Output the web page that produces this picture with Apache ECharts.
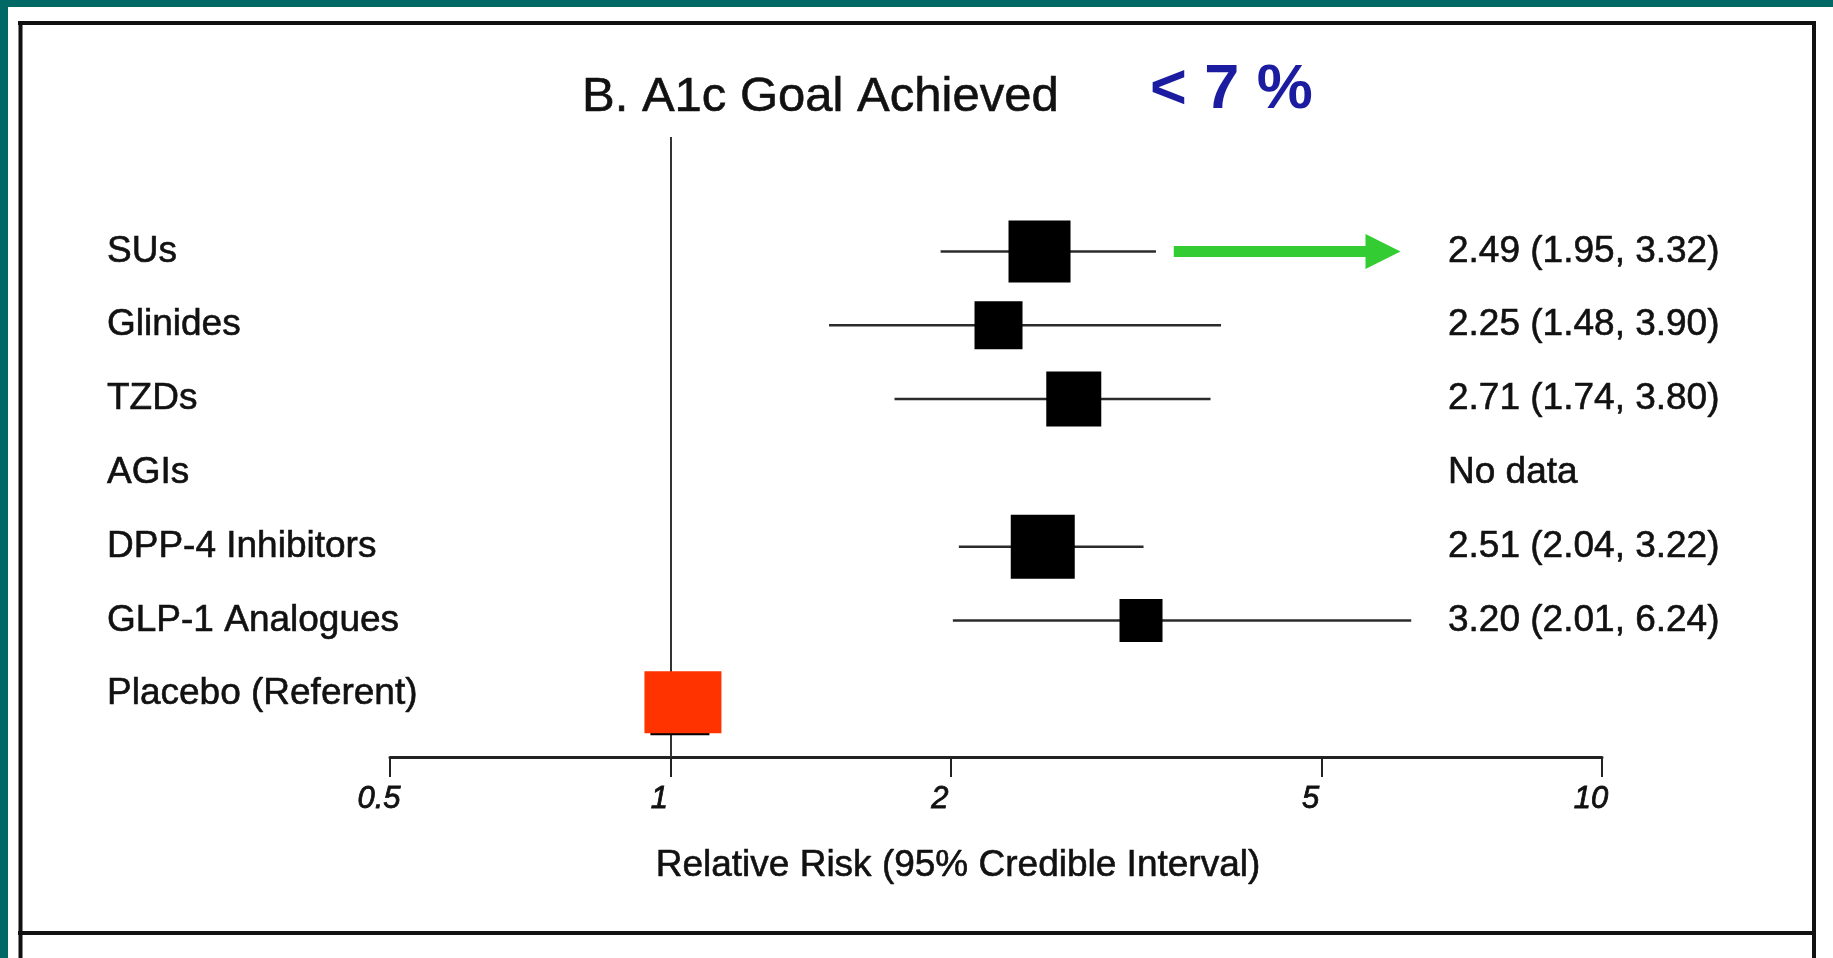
<!DOCTYPE html>
<html>
<head>
<meta charset="utf-8">
<title>A1c Goal Achieved – Relative Risk</title>
<script src="https://cdn.jsdelivr.net/npm/echarts@6/dist/echarts.min.js"></script>
<style>
  html, body { margin: 0; padding: 0; background: #ffffff; }
  #chart { width: 1833px; height: 958px; }
</style>
</head>
<body>
<div id="chart"></div>
<script>
// Drug classes, top to bottom
const categories = ['SUs', 'Glinides', 'TZDs', 'AGIs', 'DPP-4 Inhibitors', 'GLP-1 Analogues', 'Placebo (Referent)'];
// Relative risk of reaching the A1c goal, with 95% credible interval (null = no data / referent)
const relativeRisk = [2.49, 2.25, 2.71, null, 2.51, 3.20, 1.00];
const ciLower      = [1.95, 1.48, 1.74, null, 2.04, 2.01, null];
const ciUpper      = [3.32, 3.90, 3.80, null, 3.22, 6.24, null];
// Log-axis ticks
const xTickValues = [0.5, 1, 2, 5, 10];
const xTickLabels = ['0.5', '1', '2', '5', '10'];

const FONT = '"Liberation Sans", Arial, Helvetica, sans-serif';
const INK = '#111111';
// Square marker side (px) per row
const boxSide = [62, 48, 55, 0, 64, 43, 59];

function rowText(i) {
  if (relativeRisk[i] == null) return 'No data';
  if (ciLower[i] == null) return '';
  return relativeRisk[i].toFixed(2) + ' (' + ciLower[i].toFixed(2) + ', ' + ciUpper[i].toFixed(2) + ')';
}

const forestData = [];
categories.forEach((c, i) => {
  if (relativeRisk[i] != null) {
    forestData.push([i, relativeRisk[i],
      ciLower[i] == null ? '-' : ciLower[i],
      ciUpper[i] == null ? '-' : ciUpper[i]]);
  }
});

function renderForest(params, api) {
  const row = api.value(0);
  const rr = api.value(1);
  const lo = api.value(2);
  const hi = api.value(3);
  const c = api.coord([rr, row]);
  const side = boxSide[row];
  const children = [];
  if (isFinite(lo) && isFinite(hi)) {
    const a = api.coord([lo, row]);
    const b = api.coord([hi, row]);
    children.push({
      type: 'line',
      shape: { x1: a[0], y1: a[1], x2: b[0], y2: b[1] },
      style: { stroke: '#2b2b2b', lineWidth: 2.5 }
    });
    children.push({
      type: 'rect',
      shape: { x: c[0] - side / 2, y: c[1] - side / 2, width: side, height: side },
      style: { fill: '#000000' }
    });
  } else {
    // referent: black marker under a red highlight
    children.push({
      type: 'rect',
      shape: { x: c[0] - 20, y: c[1] - 18, width: side, height: side },
      style: { fill: '#000000' }
    });
    children.push({
      type: 'rect',
      shape: { x: c[0] - 26, y: c[1] - 23, width: 77, height: 62 },
      style: { fill: '#ff3300' }
    });
  }
  return { type: 'group', children };
}

const rowIndices = categories.map((_, i) => i);
const yCommon = {
  type: 'value',
  inverse: true,
  min: -1.55,
  max: 6.85,
  axisLine: { show: false },
  axisTick: { show: false },
  splitLine: { show: false }
};
const labelText = {
  fontSize: 37,
  color: INK,
  fontFamily: FONT,
  textBorderColor: INK,
  textBorderWidth: 0.6
};

const chart = echarts.init(document.getElementById('chart'), null, { renderer: 'canvas' });

chart.setOption({
  animation: false,
  backgroundColor: '#ffffff',
  title: {
    text: 'B. A1c Goal Achieved',
    left: 582,
    top: 73,
    padding: 0,
    textStyle: {
      fontSize: 49, lineHeight: 49, fontWeight: 'normal', color: INK, fontFamily: FONT,
      textBorderColor: INK, textBorderWidth: 0.6
    }
  },
  grid: { left: 390, right: 231, top: 137, bottom: 201, containLabel: false },
  xAxis: {
    type: 'log',
    logBase: 10,
    min: 0.5,
    max: 10,
    splitLine: { show: false },
    axisLine: { onZero: false, lineStyle: { color: '#222222', width: 3 } },
    axisTick: { customValues: xTickValues, length: 20, lineStyle: { color: '#222222', width: 2 } },
    axisLabel: {
      customValues: xTickValues,
      formatter: v => {
        const i = xTickValues.findIndex(t => Math.abs(t - v) < 1e-6 * t);
        return i >= 0 ? xTickLabels[i] : String(v);
      },
      margin: 27,
      padding: [0, 22, 0, 0],
      fontSize: 31,
      fontStyle: 'italic',
      color: INK,
      fontFamily: FONT,
      textBorderColor: INK,
      textBorderWidth: 0.8
    },
    name: 'Relative Risk (95% Credible Interval)',
    nameLocation: 'middle',
    nameGap: 90,
    nameTextStyle: Object.assign({}, labelText, { padding: [0, 76, 0, 0] })
  },
  yAxis: [
    Object.assign({}, yCommon, {
      position: 'left',
      axisLabel: Object.assign({}, labelText, {
        customValues: rowIndices,
        formatter: v => categories[Math.round(v)] || '',
        align: 'left',
        margin: 283
      })
    }),
    Object.assign({}, yCommon, {
      position: 'right',
      axisLabel: Object.assign({}, labelText, {
        inside: true,
        customValues: rowIndices,
        formatter: v => rowText(Math.round(v)),
        align: 'left',
        margin: 154
      })
    })
  ],
  series: [
    {
      type: 'custom',
      name: 'Relative risk',
      xAxisIndex: 0,
      yAxisIndex: 0,
      renderItem: renderForest,
      encode: { x: 1, y: 0 },
      data: forestData,
      z: 5,
      markLine: {
        silent: true,
        symbol: ['none', 'none'],
        label: { show: false },
        lineStyle: { color: '#333333', width: 2, type: 'solid' },
        data: [{ xAxis: 1 }]
      }
    },
    {
      type: 'line',
      name: 'highlight',
      xAxisIndex: 0,
      yAxisIndex: 0,
      data: [],
      markLine: {
        silent: true,
        symbol: ['none', 'triangle'],
        symbolSize: [35, 35],
        label: { show: false },
        lineStyle: { color: '#33cc33', width: 11, type: 'solid', cap: 'butt' },
        data: [[{ coord: [3.47, 0] }, { coord: [5.82, 0] }]]
      }
    }
  ],
  graphic: [
    { type: 'rect', shape: { x: 0, y: 0, width: 1833, height: 7 }, style: { fill: '#006966' }, silent: true },
    { type: 'rect', shape: { x: 0, y: 0, width: 8, height: 958 }, style: { fill: '#006966' }, silent: true },
    { type: 'line', shape: { x1: 18, y1: 23, x2: 1816, y2: 23 }, style: { stroke: INK, lineWidth: 4 }, silent: true },
    { type: 'line', shape: { x1: 20.5, y1: 21, x2: 20.5, y2: 958 }, style: { stroke: INK, lineWidth: 4 }, silent: true },
    { type: 'line', shape: { x1: 1814, y1: 21, x2: 1814, y2: 958 }, style: { stroke: INK, lineWidth: 4 }, silent: true },
    { type: 'line', shape: { x1: 18, y1: 933, x2: 1816, y2: 933 }, style: { stroke: INK, lineWidth: 4 }, silent: true },
    {
      type: 'text',
      x: 1150,
      y: 91,
      silent: true,
      style: {
        text: '< 7 %',
        fontSize: 63,
        fontWeight: 'bold',
        fontFamily: FONT,
        fill: '#1c1ca0',
        align: 'left',
        verticalAlign: 'middle'
      }
    }
  ]
});
</script>
</body>
</html>
